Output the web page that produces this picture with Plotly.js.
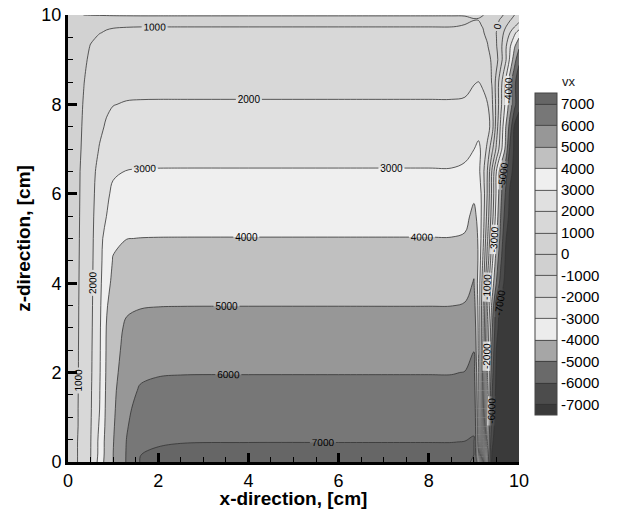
<!DOCTYPE html>
<html>
<head>
<meta charset="utf-8">
<script src="https://cdn.plot.ly/plotly-3.0.1.min.js"></script>
<style>html,body{margin:0;padding:0;background:#fff}#plot{width:623px;height:509px}</style>
</head>
<body>
<div id="plot"></div>
<script>
// x positions (cm) of the sampled grid
const xCoords = [0, 0.2, 0.35, 0.5, 0.7, 0.85, 1.0, 1.3, 1.6, 2.0, 2.5, 4, 6, 8, 8.5, 8.8, 9.0, 9.1, 9.2, 9.3, 9.4, 9.5, 9.6, 9.7, 9.8, 9.9, 10];
// z positions (cm) of the sampled grid
const zCoords = [0, 0.2, 0.45, 0.8, 1.2, 1.6, 2.0, 2.5, 3.0, 3.5, 4.0, 4.5, 5.0, 5.5, 6.0, 6.5, 7.0, 7.5, 8.0, 8.5, 9.0, 9.3, 9.6, 9.75, 9.9, 10];
// vx values, one row per z position
const vxRows = [
  [100, 960, 1480, 1990, 3375, 4400, 4990, 6070, 7030, 7200, 7280, 7300, 7300, 7300, 7300, 7300, 6800, 3500, -500, -4500, -7200, -7800, -8000, -8000, -8000, -8000, -8000],
  [100, 960, 1470, 1970, 3250, 4350, 4990, 6060, 6980, 7100, 7160, 7170, 7170, 7170, 7170, 7180, 7050, 4000, -100, -4200, -7050, -7700, -7950, -8000, -8000, -8000, -8000],
  [100, 960, 1470, 1960, 3250, 4340, 4960, 6030, 6700, 6920, 6975, 6990, 6990, 6990, 6990, 7010, 7060, 4300, 100, -3900, -6800, -7600, -7900, -8000, -8000, -8000, -8000],
  [100, 920, 1430, 1930, 3120, 4250, 4900, 5930, 6500, 6700, 6750, 6770, 6770, 6770, 6770, 6800, 6900, 4400, 300, -3600, -6500, -7500, -7900, -8000, -8000, -8000, -8000],
  [100, 920, 1420, 1900, 2990, 4200, 4830, 5850, 6250, 6440, 6490, 6500, 6500, 6500, 6500, 6530, 6700, 4400, 500, -3300, -6200, -7400, -7850, -8000, -8000, -8000, -8000],
  [100, 910, 1400, 1880, 2950, 4150, 4780, 5700, 6080, 6190, 6225, 6230, 6230, 6230, 6230, 6270, 6500, 4300, 600, -3100, -5900, -7300, -7800, -7950, -8000, -8000, -8000],
  [100, 900, 1380, 1850, 2900, 4100, 4700, 5500, 5850, 5940, 5965, 5970, 5970, 5970, 5970, 6020, 6270, 4200, 700, -2900, -5600, -7200, -7700, -7900, -8000, -8000, -8000],
  [100, 900, 1370, 1830, 2870, 4060, 4650, 5300, 5550, 5630, 5645, 5650, 5650, 5650, 5650, 5700, 5980, 3950, 900, -2500, -5200, -7050, -7600, -7850, -8000, -8000, -8000],
  [100, 890, 1350, 1800, 2850, 4020, 4600, 5150, 5270, 5310, 5318, 5320, 5320, 5320, 5320, 5370, 5700, 3900, 1050, -2200, -4800, -6700, -7500, -7800, -7950, -8000, -8000],
  [100, 880, 1340, 1780, 2800, 3900, 4450, 4850, 4950, 4980, 4988, 4990, 4990, 4990, 4990, 5050, 5400, 3800, 1200, -1800, -4200, -6500, -7300, -7700, -7900, -8000, -8000],
  [100, 870, 1320, 1760, 2750, 3700, 4200, 4550, 4640, 4660, 4668, 4670, 4670, 4670, 4670, 4720, 5050, 3700, 1500, -1200, -3400, -5050, -6500, -7300, -7700, -7900, -8000],
  [100, 860, 1300, 1740, 2700, 3550, 4050, 4270, 4320, 4335, 4338, 4340, 4340, 4340, 4340, 4400, 4800, 3900, 1900, -400, -2700, -4500, -5900, -7100, -7600, -7850, -7950],
  [100, 850, 1280, 1720, 2650, 3400, 3850, 3990, 4010, 4018, 4020, 4020, 4020, 4020, 4020, 4080, 4500, 3900, 2300, 100, -2100, -3900, -5400, -6900, -7500, -7800, -7900],
  [100, 840, 1260, 1700, 2550, 2990, 3400, 3620, 3680, 3695, 3698, 3700, 3700, 3700, 3700, 3780, 4200, 3800, 2500, 600, -1500, -3500, -5100, -6400, -7300, -7600, -7800],
  [100, 830, 1240, 1700, 2400, 2850, 3150, 3320, 3360, 3368, 3370, 3370, 3370, 3370, 3370, 3450, 3850, 3600, 2600, 900, -1200, -3200, -4800, -6050, -7150, -7500, -7700],
  [100, 820, 1220, 1650, 2300, 2700, 2900, 3020, 3040, 3048, 3050, 3050, 3050, 3050, 3050, 3150, 3450, 3300, 2300, 950, -1100, -3050, -4600, -5600, -6700, -7300, -7500],
  [100, 780, 1150, 1550, 2050, 2400, 2580, 2690, 2715, 2720, 2720, 2720, 2720, 2720, 2720, 2780, 2990, 3150, 2800, 1700, 300, -1200, -2700, -4200, -6200, -7200, -7500],
  [100, 760, 1100, 1450, 1850, 2080, 2250, 2370, 2395, 2400, 2400, 2400, 2400, 2400, 2400, 2450, 2650, 2750, 2650, 2500, 1500, -500, -2300, -3900, -5400, -7150, -7300],
  [100, 720, 1050, 1350, 1700, 1880, 1980, 2050, 2065, 2070, 2070, 2070, 2070, 2070, 2070, 2100, 2250, 2290, 2200, 2050, 1200, -300, -1800, -3200, -4500, -5700, -6850],
  [100, 680, 980, 1250, 1520, 1640, 1700, 1745, 1758, 1760, 1760, 1760, 1760, 1760, 1760, 1790, 1960, 2010, 1900, 1500, 950, -350, -1700, -3020, -4550, -5800, -6600],
  [100, 640, 900, 1100, 1300, 1380, 1420, 1445, 1450, 1450, 1450, 1450, 1450, 1450, 1450, 1480, 1560, 1580, 1450, 1250, 900, 300, -700, -1800, -3200, -4600, -5800],
  [100, 600, 850, 1020, 1160, 1220, 1250, 1265, 1270, 1270, 1270, 1270, 1270, 1270, 1270, 1300, 1360, 1370, 1250, 1050, 650, 50, -800, -1800, -2900, -3900, -4800],
  [100, 560, 780, 900, 990, 1030, 1055, 1075, 1080, 1080, 1080, 1080, 1080, 1080, 1080, 1100, 1150, 1160, 1050, 850, 500, -20, -600, -1300, -2000, -2800, -3500],
  [100, 540, 750, 860, 930, 960, 975, 985, 990, 990, 990, 990, 990, 990, 990, 1010, 1060, 1060, 980, 800, 500, 100, -400, -900, -1400, -1900, -2400],
  [100, 520, 730, 840, 900, 930, 945, 955, 960, 960, 960, 960, 960, 960, 960, 970, 990, 990, 940, 800, 550, 250, -100, -500, -900, -1300, -1700],
  [100, 900, 1005, 1010, 1010, 1010, 1010, 1010, 1010, 1010, 1010, 1010, 1010, 1010, 1010, 1010, 1040, 1030, 1010, 950, 800, 500, 200, -200, -600, -1000, -1400]
];
// legend levels and grey shades (low to high band)
const levelTicks = [-7000, -6000, -5000, -4000, -3000, -2000, -1000, 0, 1000, 2000, 3000, 4000, 5000, 6000, 7000];
const bandColors = ['#3a3a3a', '#4c4c4c', '#6a6a6a', '#a6a6a6', '#ececec', '#dedede', '#d6d6d6', '#d0d0d0',
                    '#d2d2d2', '#d8d8d8', '#e0e0e0', '#efefef', '#c0c0c0', '#979797', '#777777', '#666666'];

// step colour scale: band k is centred on k/15 of the [-7500, 7500] range
const m = bandColors.length - 1;
const colorscale = [];
bandColors.forEach((c, k) => {
  const lo = Math.max(0, (k - 0.5) / m), hi = Math.min(1, (k + 0.5) / m);
  colorscale.push([lo, c]); colorscale.push([hi, c]);
});

const font = 'Liberation Sans, Arial, sans-serif';

const trace = {
  type: 'contour',
  x: xCoords, y: zCoords, z: vxRows,
  zmin: -7500, zmax: 7500,
  colorscale: colorscale,
  autocontour: false,
  contours: {start: -7000, end: 7000, size: 1000, coloring: 'fill', showlines: true, showlabels: true,
             labelfont: {family: font, size: 10, color: '#000'}},
  line: {color: '#333', width: 0.8},
  hoverinfo: 'skip',
  colorbar: {
    x: 1.0355, xanchor: 'left', xpad: 0,
    y: 0.465, yanchor: 'middle', len: 0.72, lenmode: 'fraction',
    thickness: 22, thicknessmode: 'pixels',
    outlinewidth: 1, outlinecolor: '#444',
    tickmode: 'array', tickvals: levelTicks, ticktext: levelTicks.map(String),
    ticks: '', ticklabelposition: 'outside',
    tickfont: {family: font, size: 15, color: '#000'},
    ypad: 0
  }
};

const layout = {
  width: 623, height: 509,
  margin: {l: 68, r: 104, t: 15, b: 47},
  paper_bgcolor: '#fff', plot_bgcolor: '#fff',
  font: {family: font, color: '#000'},
  xaxis: {
    range: [0, 10], tickvals: [0, 2, 4, 6, 8, 10], ticks: 'inside', ticklen: 9, tickwidth: 3, tickcolor: '#000',
    showline: true, linewidth: 3, linecolor: '#000', mirror: false, zeroline: false, showgrid: false,
    tickfont: {family: font, size: 18, color: '#000'},
    minor: {dtick: 0.5, ticks: 'inside', ticklen: 5, tickwidth: 1, tickcolor: '#000'},
    title: {text: '<b>x-direction, [cm]</b>', font: {family: font, size: 19, color: '#000'}, standoff: 0}
  },
  yaxis: {
    range: [0, 10], tickvals: [0, 2, 4, 6, 8, 10], ticks: 'inside', ticklen: 9, tickwidth: 3, tickcolor: '#000',
    showline: true, linewidth: 3, linecolor: '#000', mirror: false, zeroline: false, showgrid: false,
    tickfont: {family: font, size: 18, color: '#000'},
    minor: {dtick: 0.5, ticks: 'inside', ticklen: 5, tickwidth: 1, tickcolor: '#000'},
    title: {text: '<b>z-direction, [cm]</b>', font: {family: font, size: 19, color: '#000'}, standoff: 6}
  },
  annotations: [{
    text: 'vx', xref: 'paper', yref: 'paper', x: 1.131, y: 0.872, showarrow: false,
    font: {family: font, size: 13, color: '#222'}
  }],
  showlegend: false
};

Plotly.newPlot('plot', [trace], layout, {displayModeBar: false, staticPlot: true});
</script>
</body>
</html>
